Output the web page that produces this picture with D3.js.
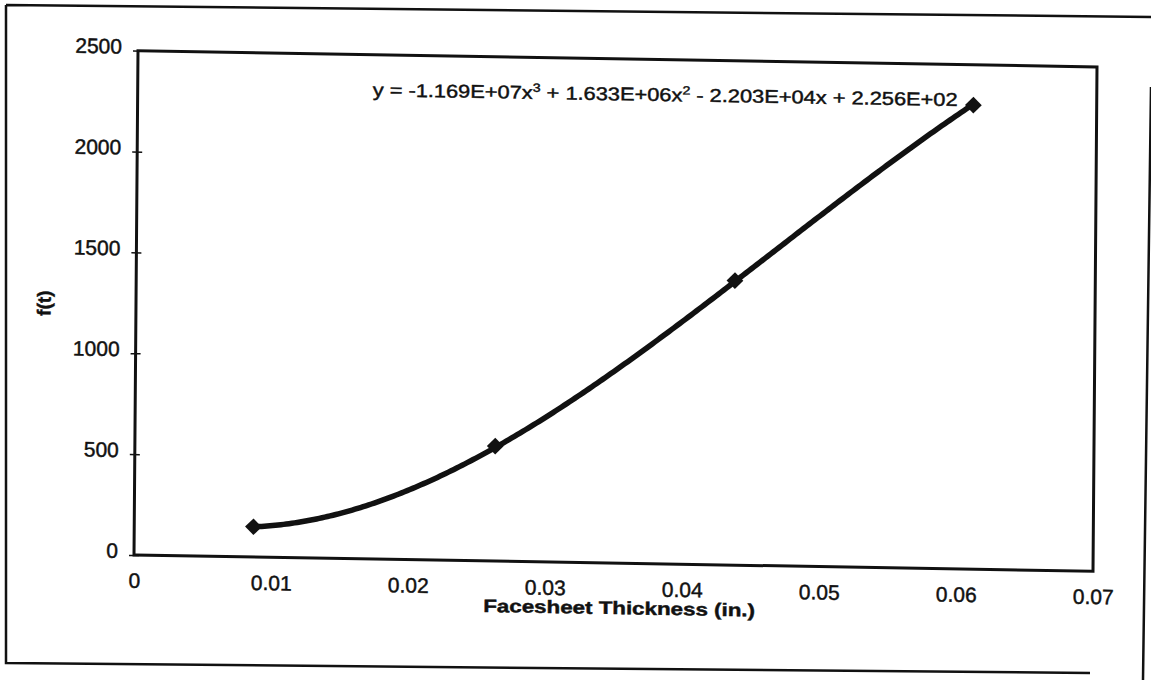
<!DOCTYPE html>
<html>
<head>
<meta charset="utf-8">
<title>f(t) vs Facesheet Thickness</title>
<script src="https://cdn.jsdelivr.net/npm/d3@7"></script>
<style>
  html, body { margin: 0; padding: 0; background: #fff; }
  svg { display: block; }
  text { font-family: "Liberation Sans", Arial, sans-serif; fill: #111; stroke: #111; stroke-width: 0.45px; }
</style>
</head>
<body>
<svg id="chart" width="1151" height="680"></svg>
<script>
// Data
const thickness = [0.0087, 0.0263, 0.0437, 0.061];   // in.
const fValues = [150, 570, 1410, 2300];
// Poly(3) trendline coefficients, highest power first (from the label)
const trendCoefficients = [-1.169e7, 1.633e6, -2.203e4, 2.256e2];
const xTicks = [0, 0.01, 0.02, 0.03, 0.04, 0.05, 0.06, 0.07];
const yTicks = [0, 500, 1000, 1500, 2000, 2500];

const width = 959;
const height = 504.3;

const svg = d3.select("#chart");

// Outer border of the scanned figure
svg.append("path")
  .attr("d", "M6,5 L1151,17 M6,5 L6,663 L1090,673 M1151,87 L1143,680")
  .attr("fill", "none")
  .attr("stroke", "#111")
  .attr("stroke-width", 2.5);

// The scan is slightly skewed, so the plot group gets a small shear
const g = svg.append("g")
  .attr("transform", "matrix(1,0.0169,-0.00793,1,138,50.7)");

const xScale = d3.scaleLinear().domain([0, 0.07]).range([0, width]);
const yScale = d3.scaleLinear().domain([0, 2500]).range([height, 0]);

// Plot frame
g.append("rect")
  .attr("width", width)
  .attr("height", height)
  .attr("fill", "none")
  .attr("stroke", "#111")
  .attr("stroke-width", 3);

// Y axis with ticks crossing the axis line
const yAxis = g.append("g")
  .call(d3.axisLeft(yScale).tickValues(yTicks).tickSize(5).tickPadding(11).tickFormat(d3.format("d")));
yAxis.select(".domain").remove();
yAxis.selectAll(".tick line").attr("x1", 5).attr("stroke", "#111").attr("stroke-width", 1.5);
yAxis.selectAll(".tick text").attr("dy", "0.13em");
yAxis.attr("font-size", 21).attr("font-family", null);

// X axis, labels only
const xAxis = g.append("g")
  .attr("transform", `translate(0,${height})`)
  .call(d3.axisBottom(xScale).tickValues(xTicks).tickSize(0).tickPadding(18)
    .tickFormat(d => d === 0 ? "0" : d3.format(".2f")(d)));
xAxis.select(".domain").remove();
xAxis.attr("font-size", 21).attr("font-family", null);

// Trendline drawn from its own equation over the data range
const poly = x => trendCoefficients.reduce((acc, c) => acc * x + c, 0);
const trendX = d3.range(thickness[0], d3.max(thickness), 0.0002).concat([d3.max(thickness)]);
const line = d3.line()
  .x(d => xScale(d))
  .y(d => yScale(poly(d)));

g.append("path")
  .datum(trendX)
  .attr("d", line)
  .attr("fill", "none")
  .attr("stroke", "#111")
  .attr("stroke-width", 5.5)
  .attr("stroke-linecap", "round");

// Diamond markers
const diamond = d3.symbol().type(d3.symbolSquare).size(140);
g.selectAll(".marker")
  .data(thickness)
  .join("path")
  .attr("class", "marker")
  .attr("d", diamond)
  .attr("transform", (d, i) => `translate(${xScale(d)},${yScale(fValues[i])}) rotate(45)`)
  .attr("fill", "#111");

// Equation label
function excelExp(v) {
  const [m, e] = v.toExponential(3).split("e");
  return m + "E" + e[0] + e.slice(1).padStart(2, "0");
}
const term = (c, first) => first ? excelExp(c) : (c < 0 ? " - " : " + ") + excelExp(Math.abs(c));

const eq = g.append("text")
  .attr("x", 235)
  .attr("y", 41.5)
  .attr("font-size", 18.5);
eq.append("tspan").text("y = " + term(trendCoefficients[0], true) + "x");
eq.append("tspan").attr("font-size", 12).attr("dy", -7).text("3");
eq.append("tspan").attr("dy", 7).text(term(trendCoefficients[1]) + "x");
eq.append("tspan").attr("font-size", 12).attr("dy", -7).text("2");
eq.append("tspan").attr("dy", 7).text(term(trendCoefficients[2]) + "x" + term(trendCoefficients[3]));

// stretch a text horizontally to the width it has in the scan
function fitWidth(sel, targetWidth, anchorX) {
  const w = sel.node().getBBox().width;
  const k = targetWidth / w;
  sel.attr("transform", `translate(${anchorX},0) scale(${k},1) translate(${-anchorX},0)`);
}
fitWidth(eq, 585, 235);

// Axis titles
const xTitle = g.append("text")
  .attr("x", width / 2 + 6)
  .attr("y", height + 51)
  .attr("text-anchor", "middle")
  .attr("font-size", 18)
  .attr("font-weight", "bold")
  .text("Facesheet Thickness (in.)");
fitWidth(xTitle, 272, width / 2 + 6);

g.append("text")
  .attr("transform", "translate(-92,254) rotate(-90)")
  .attr("text-anchor", "middle")
  .attr("dy", "0.35em")
  .attr("font-size", 19)
  .attr("font-weight", "bold")
  .text("f(t)");
</script>
</body>
</html>
